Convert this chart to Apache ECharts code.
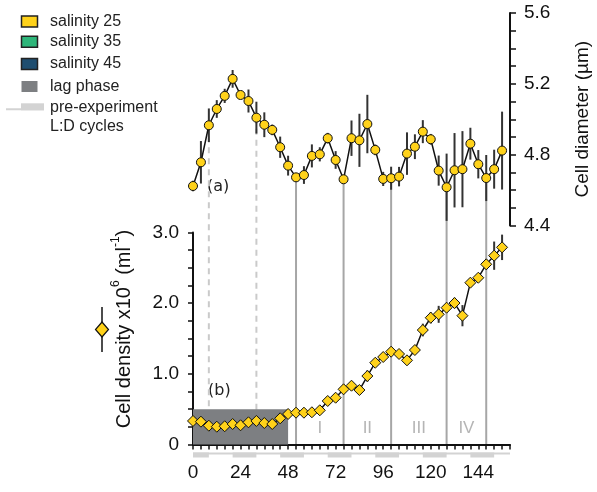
<!DOCTYPE html>
<html><head><meta charset="utf-8">
<script src="https://cdn.jsdelivr.net/npm/echarts@6/dist/echarts.min.js"></script>
<style>html,body{margin:0;padding:0;background:#fff}#c{width:597px;height:492px}</style>
</head><body><div id="c"></div>
<script>
// ---- data ----
const hours = [0,4,8,12,16,20,24,28,32,36,40,44,48,52,56,60,64,68,72,76,80,84,88,92,96,100,104,108,112,116,120,124,128,132,136,140,144,148,152,156];
const diameter = [4.623,4.757,4.966,5.058,5.132,5.228,5.137,5.103,5.009,4.969,4.940,4.842,4.738,4.672,4.685,4.793,4.802,4.893,4.770,4.661,4.893,4.881,4.973,4.827,4.663,4.667,4.676,4.806,4.845,4.930,4.887,4.710,4.616,4.712,4.718,4.862,4.746,4.668,4.718,4.823];
const diameterErr = [0.03,0.12,0.095,0.05,0.04,0.05,0.02,0.065,0.09,0.07,0.03,0.06,0.056,0.02,0.05,0.065,0.04,0.03,0.05,0.02,0.1,0.15,0.165,0.03,0.04,0.065,0.055,0.12,0.07,0.065,0.03,0.085,0.19,0.21,0.215,0.09,0.08,0.13,0.11,0.22];
const density = [0.333,0.323,0.266,0.252,0.258,0.290,0.272,0.314,0.333,0.304,0.290,0.371,0.432,0.450,0.450,0.456,0.484,0.616,0.662,0.781,0.832,0.771,0.969,1.157,1.238,1.313,1.281,1.191,1.337,1.620,1.794,1.842,1.936,2.002,1.823,2.290,2.360,2.550,2.672,2.790];
const densityErr = [0.02,0.02,0.02,0.02,0.02,0.02,0.02,0.02,0.02,0.02,0.02,0.02,0.02,0.02,0.02,0.02,0.02,0.03,0.03,0.03,0.03,0.03,0.08,0.03,0.03,0.03,0.03,0.03,0.03,0.09,0.08,0.12,0.03,0.075,0.15,0.03,0.03,0.07,0.2,0.18];
const xTickLabels = [0,24,48,72,96,120,144];
const densityTickLabels = [0,1,2,3];
const diameterTickLabels = [4.4,4.8,5.2,5.6];
const lagPhase = [0,48,0.5];            // start h, end h, top density
const lightPeriods = [[0,8],[20,32],[44,56],[68,80],[92,104],[116,128],[140,152]];
const lightAxisRange = [0,160];
const dashedLines = [8,32];
const growthLines = [52,76,100,128,148];
const phaseLabels = ['I','II','III','IV'];
const phaseX = [64,88,114,138];
const phaseY = 0.23;
const legendItems = ['salinity 25','salinity 35','salinity 45','lag phase'];
const legendColors = ['#FFD21A','#2EB67A','#1F4E70','#7D7F82'];

// ---- style ----
const FONT = "'Liberation Sans', Arial, sans-serif";
const YEL = '#FFD21A';
const TICKFS = 19;
const chart = echarts.init(document.getElementById('c'));

const diamErrData = hours.map((h,i)=>[h, diameter[i]-diameterErr[i], diameter[i]+diameterErr[i]]);
const densErrData = hours.map((h,i)=>[h, density[i]-densityErr[i], density[i]+densityErr[i]]);
const errRender = (params, api) => {
  const a = api.coord([api.value(0), api.value(1)]);
  const b = api.coord([api.value(0), api.value(2)]);
  return {type:'line', shape:{x1:a[0],y1:a[1],x2:b[0],y2:b[1]}, style:{stroke:'#333', lineWidth:2}};
};
const near = (v, arr) => arr.some(t => Math.abs(t - v) < 1e-6);

const ldData = [[lightAxisRange[0], lightAxisRange[1], 0]].concat(lightPeriods.map(p=>[p[0],p[1],1]));

const option = {
  animation:false,
  backgroundColor:'#fff',
  grid:[
    {left:193, right:87, top:13, height:212.5, outerBoundsMode:'none', containLabel:false},
    {left:193, right:87, top:232.5, height:212, outerBoundsMode:'none', containLabel:false}
  ],
  xAxis:[
    {gridIndex:0, type:'value', min:0, max:160, show:false},
    {gridIndex:1, type:'value', min:0, max:160, interval:4,
     axisLine:{lineStyle:{color:'#111', width:2}},
     axisTick:{length:5, lineStyle:{color:'#111', width:1.5}},
     splitLine:{show:false},
     axisLabel:{margin:19, fontSize:TICKFS, color:'#111', fontFamily:FONT,
       formatter:v=> near(v, xTickLabels) ? String(v) : ''}}
  ],
  yAxis:[
    {gridIndex:0, type:'value', position:'right', min:4.4, max:5.6, interval:0.1,
     axisLine:{show:true, onZero:false, lineStyle:{color:'#111', width:2}},
     axisTick:{show:true, length:6, lineStyle:{color:'#111', width:1.5}},
     splitLine:{show:false},
     axisLabel:{margin:14, fontSize:TICKFS, color:'#111', fontFamily:FONT,
       formatter:v=> near(v, diameterTickLabels) ? v.toFixed(1) : ''},
     name:'Cell diameter (µm)', nameLocation:'middle', nameRotate:90, nameGap:63,
     nameTextStyle:{fontSize:19, color:'#111', fontFamily:FONT}},
    {gridIndex:1, type:'value', min:0, max:3, interval:0.25,
     axisLine:{show:true, onZero:false, lineStyle:{color:'#111', width:2}},
     axisTick:{show:true, length:5, lineStyle:{color:'#111', width:1.5}},
     splitLine:{show:false},
     axisLabel:{margin:14, fontSize:TICKFS, color:'#111', fontFamily:FONT,
       formatter:v=> near(v, densityTickLabels) ? (v===0 ? '0' : v.toFixed(1)) : ''}}
  ],
  series:[
    {type:'custom', name:'lag', xAxisIndex:1, yAxisIndex:1, z:2,
     data:[lagPhase], encode:{x:[0,1], y:2},
     renderItem:(params, api)=>{
       const p0 = api.coord([api.value(0), 0]);
       const p1 = api.coord([api.value(1), api.value(2)]);
       return {type:'rect', shape:{x:p0[0], y:p1[1], width:p1[0]-p0[0], height:p0[1]-p1[1]}, style:{fill:'#7D7F82'}};
     }},
    {type:'custom', name:'ld', xAxisIndex:1, yAxisIndex:1, z:2, clip:false,
     data:ldData, encode:{x:[0,1]},
     renderItem:(params, api)=>{
       const a = api.coord([api.value(0), 0]);
       const b = api.coord([api.value(1), 0]);
       const thick = api.value(2) === 1;
       return {type:'rect', shape:{x:a[0], y:a[1]+8, width:b[0]-a[0], height: thick ? 5 : 2}, style:{fill:'#D3D3D3'}};
     }},
    {type:'scatter', name:'phases', xAxisIndex:1, yAxisIndex:1, symbolSize:0, z:3,
     data: phaseX.map((x,i)=>[x, phaseY]),
     label:{show:true, position:'inside', fontSize:17, color:'#A3A3A3', fontFamily:FONT,
       formatter:p=>phaseLabels[p.dataIndex]}},
    {type:'custom', name:'diamErr', xAxisIndex:0, yAxisIndex:0, z:3,
     data:diamErrData, encode:{x:0, y:[1,2]}, renderItem:errRender},
    {type:'line', name:'diameter', xAxisIndex:0, yAxisIndex:0, z:4,
     data:hours.map((h,i)=>[h, diameter[i]]),
     symbol:'circle', symbolSize:9,
     itemStyle:{color:YEL, borderColor:'#111', borderWidth:1},
     lineStyle:{color:'#111', width:1.5}},
    {type:'custom', name:'densErr', xAxisIndex:1, yAxisIndex:1, z:3,
     data:densErrData, encode:{x:0, y:[1,2]}, renderItem:errRender},
    {type:'line', name:'density', xAxisIndex:1, yAxisIndex:1, z:4,
     data:hours.map((h,i)=>[h, density[i]]),
     symbol:'diamond', symbolSize:11,
     itemStyle:{color:YEL, borderColor:'#111', borderWidth:1},
     lineStyle:{color:'#111', width:1.5}}
  ]
};
chart.setOption(option);

// ---- graphics (legend, titles, guide lines) ----
const g = [];
const rowY = [21.5, 41.7, 64, 86.5];
const LFONT = `16px ${FONT}`;
legendItems.forEach((t,i)=>{
  const isLag = i === 3;
  g.push({type:'rect', shape:{x:21.5, y:rowY[i]-5.5, width:16, height:11},
    style:{fill:legendColors[i], stroke: isLag ? null : '#222', lineWidth: isLag ? 0 : 1.5}});
  g.push({type:'text', x:50, y:rowY[i], style:{text:t, font:LFONT, fill:'#222', verticalAlign:'middle'}});
});
g.push({type:'rect', shape:{x:6, y:108.3, width:38, height:2}, style:{fill:'#D3D3D3'}});
g.push({type:'rect', shape:{x:21, y:103.3, width:23, height:7}, style:{fill:'#D3D3D3'}});
g.push({type:'text', x:50, y:108, style:{text:'pre-experiment', font:LFONT, fill:'#222', verticalAlign:'middle'}});
g.push({type:'text', x:50, y:127, style:{text:'L:D cycles', font:LFONT, fill:'#222', verticalAlign:'middle'}});

// left title with superscripts
g.push({type:'text', x:122, y:329, rotation:Math.PI/2,
  style:{text:'{a|Cell density x10}{s|6}{a| (ml}{s|-1}{a|)}', align:'center', verticalAlign:'middle',
    rich:{a:{fontSize:20, fontFamily:FONT, fill:'#111', lineHeight:24, verticalAlign:'bottom'},
          s:{fontSize:12, fontFamily:FONT, fill:'#111', lineHeight:14, verticalAlign:'top'}}}});
// marker symbol next to the title
g.push({type:'line', shape:{x1:102, y1:307, x2:102, y2:352}, style:{stroke:'#111', lineWidth:1.5}});
g.push({type:'polygon', shape:{points:[[102,322],[108.5,329.5],[102,337],[95.5,329.5]]},
  style:{fill:YEL, stroke:'#111', lineWidth:1.2}});

// panel labels
g.push({type:'text', x:207, y:187, style:{text:'(a)', font:`16px 'DejaVu Sans', sans-serif`, fill:'#222', verticalAlign:'middle'}});
g.push({type:'text', x:208, y:391, style:{text:'(b)', font:`16px 'DejaVu Sans', sans-serif`, fill:'#222', verticalAlign:'middle'}});

// vertical guide lines from diameter points down to the density x axis
const addLine = (h, dashed) => {
  const i = hours.indexOf(h);
  const top = chart.convertToPixel({gridIndex:0}, [h, diameter[i]]);
  const bot = chart.convertToPixel({gridIndex:1}, [h, 0]);
  g.push({type:'line', z:0, shape:{x1:top[0], y1:top[1], x2:bot[0], y2:bot[1]},
    style:{stroke: dashed ? '#CACACA' : '#A6A6A6', lineWidth:2, lineDash: dashed ? [6,5] : null}});
};
dashedLines.forEach(h=>addLine(h,true));
growthLines.forEach(h=>addLine(h,false));

chart.setOption({graphic:{elements:g}});
</script></body></html>
